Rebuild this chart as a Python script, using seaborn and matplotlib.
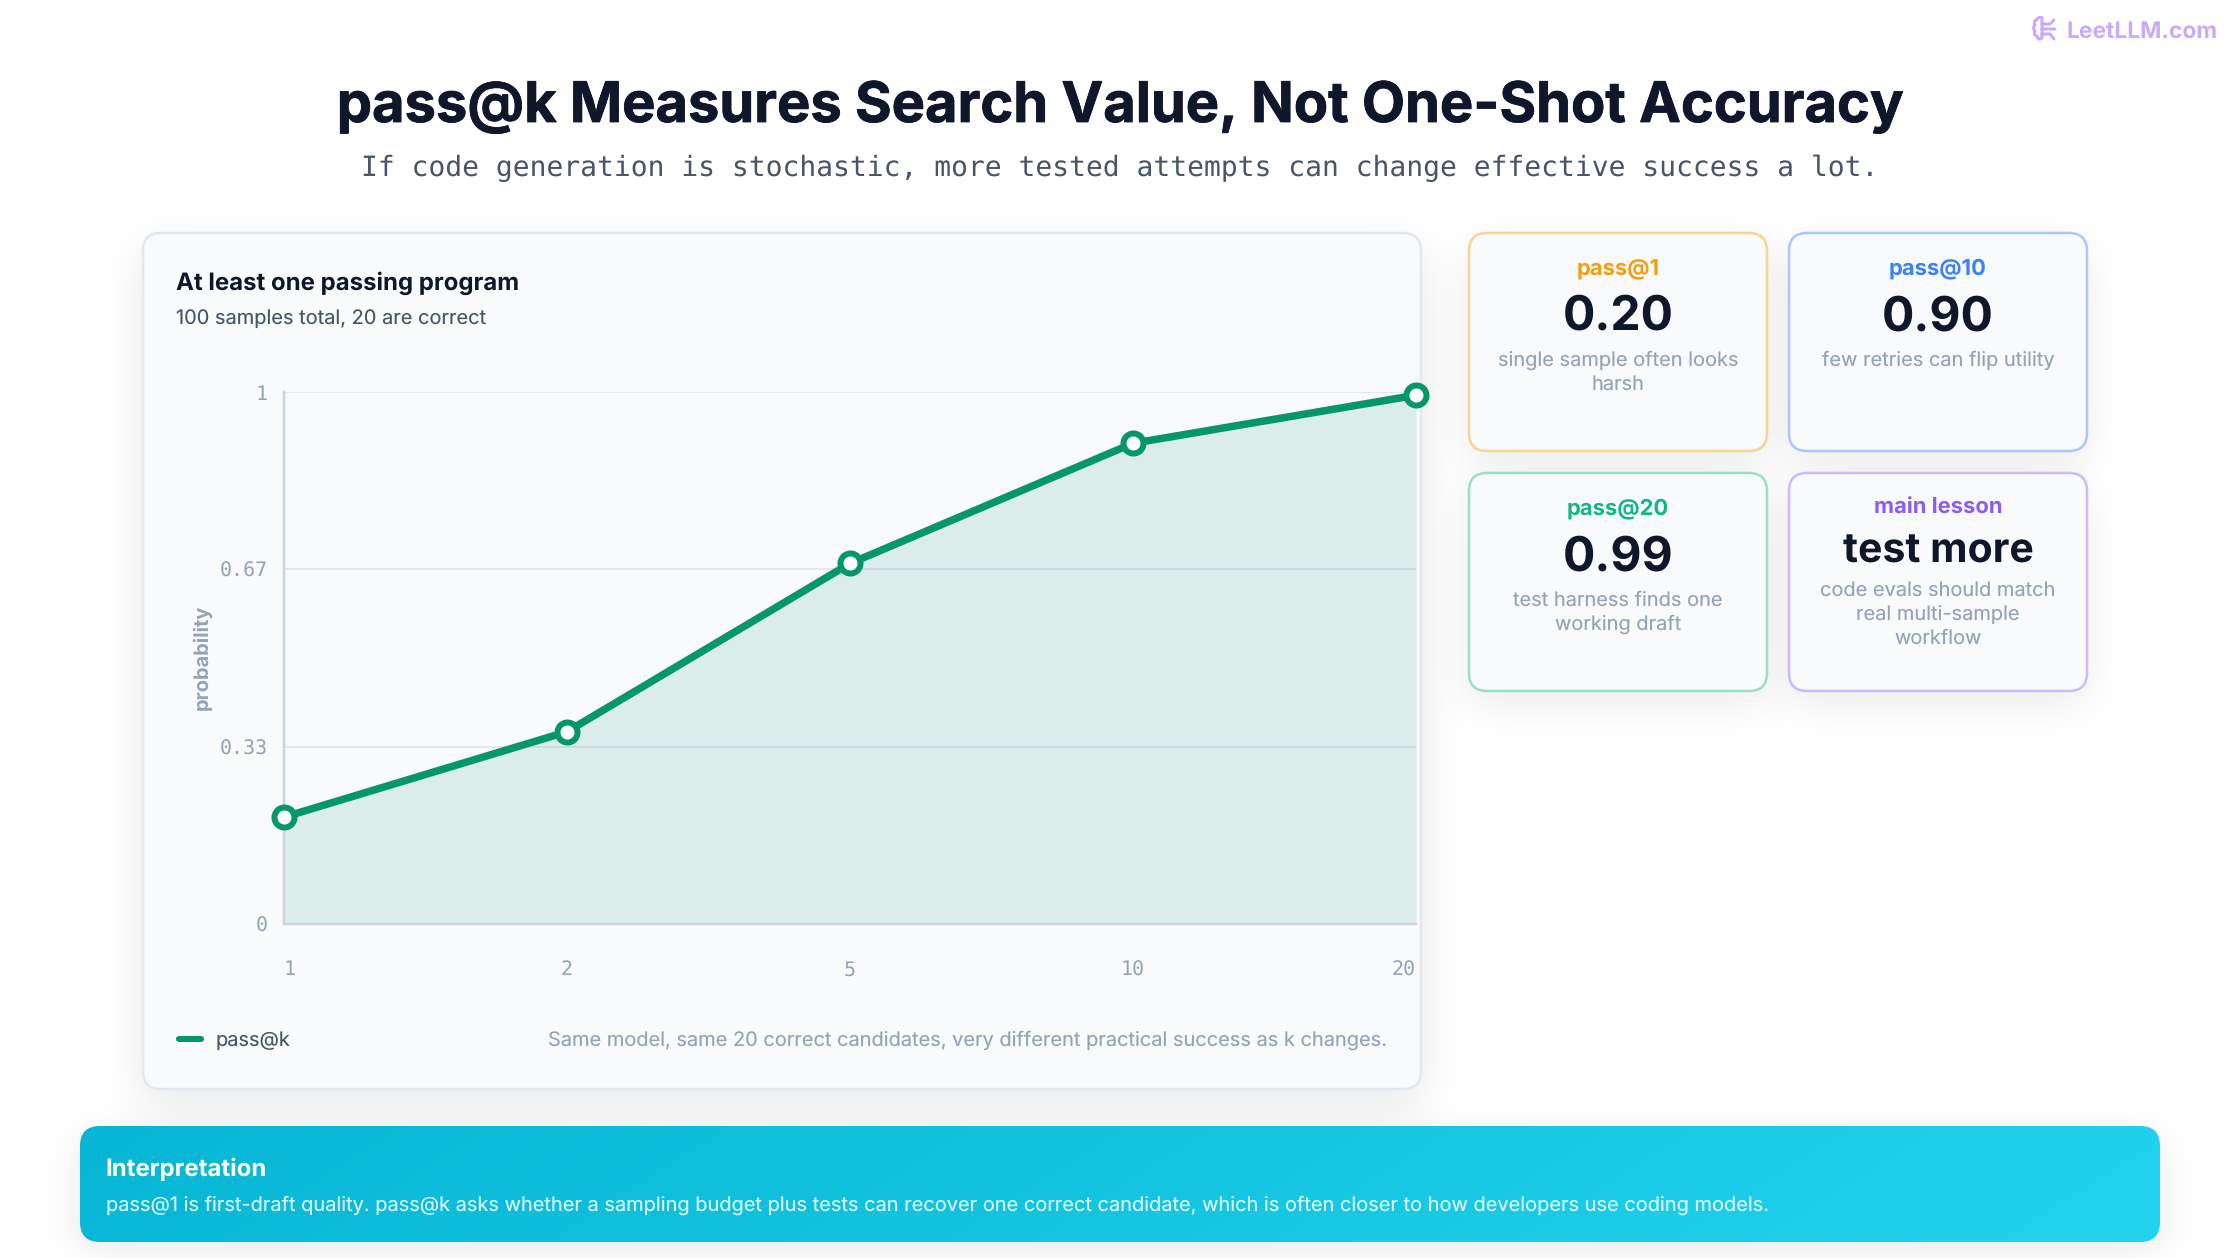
import numpy as np
import pandas as pd
import matplotlib
matplotlib.use("Agg")
import matplotlib.pyplot as plt
import matplotlib.patheffects as pe
from matplotlib.patches import FancyBboxPatch
from matplotlib.path import Path
from matplotlib.patches import PathPatch
import seaborn as sns

# Chart data
k_labels = ["1", "2", "5", "10", "20"]
pass_at_k = [0.20, 0.36, 0.675, 0.90, 0.99]
y_top = 0.996
y_ticks = [0, 0.332, 0.664, 0.996]
y_tick_labels = ["0", "0.33", "0.67", "1"]

# Summary cards
card_heads = ["pass@1", "pass@10", "pass@20", "main lesson"]
card_values = ["0.20", "0.90", "0.99", "test more"]
card_notes = [
    ["single sample often looks", "harsh"],
    ["few retries can flip utility"],
    ["test harness finds one", "working draft"],
    ["code evals should match", "real multi-sample", "workflow"],
]
card_accents = ["#f59e0b", "#3b82f6", "#10b981", "#8b5cf6"]
card_borders = ["#f8d394", "#a9c8fb", "#99dfc4", "#cdb9fb"]

W, H = 2240, 1258
SANS = "Inter"
MONO = "DejaVu Sans Mono"
INK = "#0f172a"
SLATE = "#475569"
MUTED = "#94a3b8"
GREEN = "#059669"
PANEL = "#f8fafc"
WATERMARK = "#c9aaff"

sns.set_theme(style="white")
plt.rcParams["font.family"] = [SANS, "DejaVu Sans"]
plt.rcParams["text.hinting"] = "no_hinting"
plt.rcParams["text.hinting_factor"] = 1

fig = plt.figure(figsize=(W / 100, H / 100), dpi=100, facecolor="white")
bg = fig.add_axes([0, 0, 1, 1], zorder=0)
bg.set_xlim(0, W)
bg.set_ylim(H, 0)
bg.axis("off")


def px(size):
    """Font size or line width given in output pixels."""
    return size * 0.72


def blur(a, sigma):
    # Three box passes approximate a gaussian soft shadow
    r = max(1, int(sigma * 1.7 / 2 * 1.18))
    for axis in (0, 1):
        for _ in range(3):
            c = np.cumsum(np.insert(a, 0, 0, axis=axis), axis=axis)
            n = a.shape[axis]
            hi = np.clip(np.arange(n) + r + 1, 0, n)
            lo = np.clip(np.arange(n) - r, 0, n)
            a = (np.take(c, hi, axis=axis) - np.take(c, lo, axis=axis)) / (2 * r + 1)
    return a


def shadow(x0, y0, x1, y1, dy, sigma, alpha):
    mask = np.zeros((H, W))
    mask[y0 + dy:y1 + dy, x0:x1] = 1
    mask = blur(mask, sigma) * alpha
    rgba = np.zeros((H, W, 4))
    rgba[..., :3] = matplotlib.colors.to_rgb(INK)
    rgba[..., 3] = mask
    bg.imshow(rgba, extent=(0, W, H, 0), aspect="auto", zorder=1, interpolation="bilinear")


def rounded(x0, y0, x1, y1, r, face, edge="none", lw=0, z=2):
    patch = FancyBboxPatch((x0 + r, y0 + r), x1 - x0 - 2 * r, y1 - y0 - 2 * r,
                           boxstyle=f"round,pad={r},rounding_size={r}",
                           fc=face, ec=edge, lw=px(lw), zorder=z, mutation_aspect=1)
    bg.add_patch(patch)
    return patch


def label(x, y, s, size, color=INK, weight="normal", ha="left", family=None, alpha=None, stroke=0):
    t = bg.text(x, y, s, fontsize=px(size), color=color, fontweight=weight, ha=ha,
                va="baseline", family=family or [SANS, "DejaVu Sans"], alpha=alpha, zorder=5)
    if stroke:
        t.set_path_effects([pe.withStroke(linewidth=px(stroke), foreground=color)])
    return t


# Header
label(W / 2, 122, "pass@k Measures Search Value, Not One-Shot Accuracy", 56, weight="bold", ha="center", stroke=0.8)
label(W / 2, 176, "If code generation is stochastic, more tested attempts can change effective success a lot.",
      27.9, color=SLATE, ha="center", family=MONO)

# Watermark: brain glyph and site name
label(2067, 38, "LeetLLM.com", 22.8, color=WATERMARK, weight="bold")
M, L, C = Path.MOVETO, Path.LINETO, Path.CURVE3
brain = Path(
    [(2042, 18), (2038, 16), (2037, 20), (2033, 20), (2035, 25), (2032, 28), (2035, 31),
     (2033, 35), (2037, 36), (2038, 41), (2042, 38), (2042, 18),
     (2042, 24), (2050, 24), (2054, 20),
     (2042, 29), (2055, 29),
     (2042, 34), (2050, 34), (2054, 39)],
    [M, C, C, C, C, C, C, C, C, C, C, L,
     M, L, L,
     M, L,
     M, L, L])
bg.add_patch(PathPatch(brain, fc="none", ec=WATERMARK, lw=px(3), capstyle="round", joinstyle="round", zorder=5))

# Chart panel
shadow(143, 233, 1421, 1089, 16, 24, 0.10)
rounded(143, 233, 1421, 1089, 18, PANEL, "#e2e8f0", 2.5)
label(176, 290, "At least one passing program", 24, weight="bold")
label(176, 324, "100 samples total, 20 are correct", 20, color=SLATE)

ax = fig.add_axes([284 / W, 1 - 924 / H, (1416 - 284) / W, (924 - 392) / H], zorder=3)
ax.patch.set_alpha(0)
frame = pd.DataFrame({"k": k_labels, "probability": pass_at_k})
ax.fill_between(range(len(k_labels)), frame["probability"], 0, color=GREEN, alpha=0.12, lw=0, zorder=1)
sns.lineplot(data=frame, x="k", y="probability", ax=ax, sort=False, color=GREEN, lw=px(7.5),
             marker="o", markersize=px(20), markeredgecolor=GREEN, markerfacecolor="white",
             markeredgewidth=px(6), clip_on=False, zorder=4, errorbar=None)
ax.set_xlim(0, len(k_labels) - 1)
ax.set_ylim(0, y_top)
ax.set_yticks(y_ticks, y_tick_labels, family=MONO, fontsize=px(19.6), color=MUTED)
ax.set_xticks(range(len(k_labels)), k_labels, family=MONO, fontsize=px(19.6), color=MUTED)
ax.get_xticklabels()[0].set_ha("left")
ax.get_xticklabels()[-1].set_ha("right")
ax.tick_params(axis="both", length=0)
ax.tick_params(axis="y", pad=px(16))
ax.tick_params(axis="x", pad=px(36))
ax.yaxis.grid(True, color="#e2e8f0", lw=px(2), zorder=0)
ax.xaxis.grid(False)
ax.set_axisbelow(True)
for side in ("top", "right"):
    ax.spines[side].set_visible(False)
for side in ("left", "bottom"):
    ax.spines[side].set_color("#cbd5e1")
    ax.spines[side].set_linewidth(px(2.5))
ax.set_xlabel("")
ax.set_ylabel("probability", fontsize=px(20), color=MUTED, fontweight="bold", va="center")
ax.yaxis.set_label_coords(-(284 - 202) / (1416 - 284), 0.502)

# Legend row and footnote
rounded(176, 1036, 204, 1042, 3, GREEN, z=5)
label(216, 1046, "pass@k", 20, color=SLATE)
label(1387, 1046, "Same model, same 20 correct candidates, very different practical success as k changes.",
      20, color=MUTED, ha="right")

# Summary cards
card_x = [(1469, 1767), (1789, 2087)]
card_y = [(233, 451), (473, 691)]
for i, (head, value, notes, accent, border) in enumerate(
        zip(card_heads, card_values, card_notes, card_accents, card_borders)):
    x0, x1 = card_x[i % 2]
    y0, y1 = card_y[i // 2]
    cx = (x0 + x1) / 2
    shadow(x0, y0, x1, y1, 14, 22, 0.08)
    rounded(x0, y0, x1, y1, 18, PANEL, border, 2.5)
    label(cx, y0 + 41, head, 22, color=accent, weight="bold", ha="center")
    is_word = not value[0].isdigit()
    label(cx, y0 + (90 if is_word else 97), value, 41 if is_word else 48, weight="bold", ha="center")
    first = y0 + (123 if is_word else 133)
    for j, line in enumerate(notes):
        label(cx, first + 24 * j, line, 20, color=MUTED, ha="center")

# Interpretation banner
shadow(80, 1126, 2160, 1242, 14, 22, 0.10)
grad_x, grad_y = np.meshgrid(np.linspace(0, 1, 600), np.linspace(0, 1, 40))
t = np.clip(0.92 * grad_x + 0.08 * grad_y, 0, 1)[..., None]
c0 = np.array(matplotlib.colors.to_rgb("#06b6d4"))
c1 = np.array(matplotlib.colors.to_rgb("#22d3ee"))
img = bg.imshow(c0 * (1 - t) + c1 * t, extent=(80, 2160, 1242, 1126), aspect="auto", zorder=2)
clip = rounded(80, 1126, 2160, 1242, 20, "none", z=2)
img.set_clip_path(clip)
label(105.5, 1176, "Interpretation", 24, color="white", weight="bold")
label(105.5, 1211, "pass@1 is first-draft quality. pass@k asks whether a sampling budget plus tests can recover "
      "one correct candidate, which is often closer to how developers use coding models.",
      20, color="white", alpha=0.85)

bg.set_xlim(0, W)
bg.set_ylim(H, 0)
fig.savefig("out.png", dpi=100, facecolor="white")
